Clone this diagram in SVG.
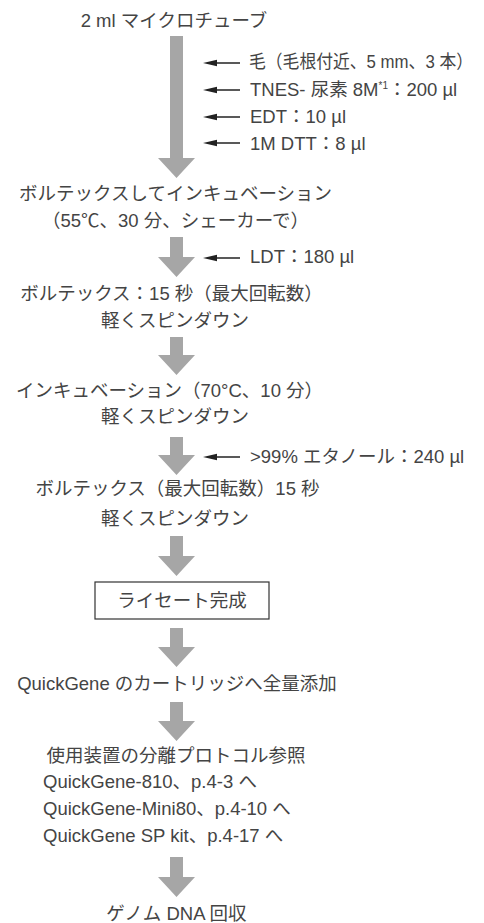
<svg xmlns="http://www.w3.org/2000/svg" width="484" height="923" viewBox="0 0 484 923">
<style>
text{font-family:"Liberation Sans","Noto Sans CJK JP",sans-serif;font-size:18.5px;fill:#444;font-weight:normal}
.c{text-anchor:middle}
.big{fill:#a6a6a6}
.h{stroke:#222;stroke-width:1.5;fill:none}
</style>
<defs>
<marker id="ah" viewBox="0 0 14 8" refX="1" refY="4" markerWidth="14" markerHeight="8" markerUnits="userSpaceOnUse" orient="auto">
<path d="M0,0.8 L14,4 L0,7.2 Z" fill="#222"/>
</marker>
</defs>
<g id="connectors">
<path class="big" d="M170,36H183V158H195L176.5,178L158,158H170Z"/>
<path class="big" d="M170,237H183V257H195L176.5,277L158,257H170Z"/>
<path class="big" d="M170,337H183V355H195L176.5,375L158,355H170Z"/>
<path class="big" d="M170,437H183V455H195L176.5,475L158,455H170Z"/>
<path class="big" d="M170,536H183V556H195L176.5,576L158,556H170Z"/>
<path class="big" d="M170,628H183V647H195L176.5,667L158,647H170Z"/>
<path class="big" d="M170,702H183V721H195L176.5,741L158,721H170Z"/>
<path class="big" d="M170,857H183V877H195L176.5,897L158,877H170Z"/>
<line class="h" x1="240" y1="63" x2="216" y2="63" marker-end="url(#ah)"/>
<line class="h" x1="240" y1="90" x2="216" y2="90" marker-end="url(#ah)"/>
<line class="h" x1="240" y1="117" x2="216" y2="117" marker-end="url(#ah)"/>
<line class="h" x1="240" y1="143" x2="216" y2="143" marker-end="url(#ah)"/>
<line class="h" x1="240" y1="258" x2="216" y2="258" marker-end="url(#ah)"/>
<line class="h" x1="240" y1="457" x2="216" y2="457" marker-end="url(#ah)"/>
</g>
<g id="n-tube"><text class="c" x="174" y="27">2 ml マイクロチューブ</text></g>
<g id="n-hair"><text x="249" y="68" font-size="17.5" textLength="224" lengthAdjust="spacingAndGlyphs">毛（毛根付近、5 mm、3 本）</text></g>
<g id="n-tnes"><text x="250" y="96">TNES- 尿素 8M<tspan font-size="10" dy="-7">*1</tspan><tspan dy="7">：200 µl</tspan></text></g>
<g id="n-edt"><text x="250" y="123">EDT：10 µl</text></g>
<g id="n-dtt"><text x="250" y="150">1M DTT：8 µl</text></g>
<g id="n-vortex1">
<text class="c" x="175.5" y="200">ボルテックスしてインキュベーション</text>
<text class="c" x="175.5" y="227">（55℃、30 分、シェーカーで）</text>
</g>
<g id="n-ldt"><text x="250" y="263">LDT：180 µl</text></g>
<g id="n-vortex2">
<text class="c" x="171.5" y="300">ボルテックス：15 秒（最大回転数）</text>
<text class="c" x="175" y="327">軽くスピンダウン</text>
</g>
<g id="n-incubate">
<text class="c" x="169.5" y="397">インキュベーション（70°C、10 分）</text>
<text class="c" x="175" y="423">軽くスピンダウン</text>
</g>
<g id="n-ethanol"><text x="250" y="463">&gt;99% エタノール：240 µl</text></g>
<g id="n-vortex3">
<text class="c" x="177.5" y="495">ボルテックス（最大回転数）15 秒</text>
<text class="c" x="175" y="525">軽くスピンダウン</text>
</g>
<g id="n-lysate">
<rect x="95" y="582" width="174" height="37" fill="#fff" stroke="#333" stroke-width="1.2"/>
<text class="c" x="182" y="607">ライセート完成</text>
</g>
<g id="n-cartridge"><text class="c" x="177" y="690">QuickGene のカートリッジへ全量添加</text></g>
<g id="n-protocol">
<text class="c" x="176" y="762">使用装置の分離プロトコル参照</text>
<text x="43" y="788">QuickGene-810、p.4-3 へ</text>
<text x="43" y="815">QuickGene-Mini80、p.4-10 へ</text>
<text x="43" y="842">QuickGene SP kit、p.4-17 へ</text>
</g>
<g id="n-dna"><text class="c" x="176.5" y="920">ゲノム DNA 回収</text></g>
</svg>
